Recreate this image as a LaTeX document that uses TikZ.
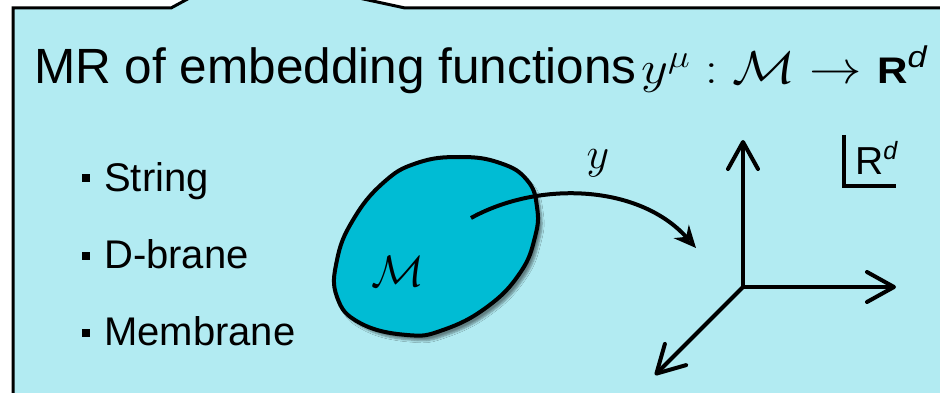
\RequirePackage{fix-cm}
\documentclass[tikz,border=0pt]{standalone}
\usepackage{fontspec}
\usepackage{graphicx}
\setmainfont{Liberation Sans}
\usetikzlibrary{arrows.meta,shadows.blur}
\definecolor{boxfill}{HTML}{B2EBF2}
\definecolor{blobfill}{HTML}{00BCD4}
\tikzset{
  panel/.style={draw=black, line width=3pt, fill=boxfill, line join=miter},
  blobshape/.style={draw=black, line width=4pt, fill=blobfill,
    blur shadow={shadow xshift=4pt, shadow yshift=-5pt, shadow blur steps=6, shadow opacity=45}},
  bulletsq/.style={fill=black, minimum size=8pt, inner sep=0pt},
  itemtxt/.style={anchor=base west, inner sep=0pt, font=\fontsize{40}{46}\selectfont},
  axis/.style={line width=4pt, line cap=round, -{Straight Barb[length=27pt, width=30pt, line width=4pt, round]}},
  maparrow/.style={line width=4pt, -{Stealth[length=22pt, width=20pt]}},
}
\begin{document}
\begin{tikzpicture}[x=1pt,y=-1pt]
\useasboundingbox (0,0) rectangle (940,393);
\fill[white] (0,0) rectangle (940,393);
% panel with callout tab
\draw[panel] (13,410) -- (13,8) -- (171,8) -- (195,-5) -- (345,-5) -- (405,8) -- (960,8) -- (960,410) -- cycle;
% title
\node[anchor=base west, inner sep=0pt, font=\fontsize{49.5}{56}\selectfont] (title) at (34,84)
  {MR of embedding functions};
\node[anchor=base west, inner sep=0pt, font=\fontsize{46}{52}\selectfont] (titlemath) at (641,84)
  {\scalebox{1.14}[1]{$y^{\mu} : \mathcal{M} \to \mbox{\fontsize{37}{42}\selectfont\bfseries R}^{\mbox{\fontsize{30}{34}\selectfont\itshape d}}$}};
% bullet list
\node[bulletsq] (b1) at (86,178) {};
\node[itemtxt] (t1) at (104,192) {String};
\node[bulletsq] (b2) at (86,256) {};
\node[itemtxt] (t2) at (104,268) {D-brane};
\node[bulletsq] (b3) at (86,333) {};
\node[itemtxt] (t3) at (104,345) {Membrane};
% manifold blob
\draw[blobshape] plot[smooth cycle, tension=0.75] coordinates {
  (460,157) (500,163) (527,180) (537,207) (535,237) (520,273) (487,307)
  (443,330) (407,335) (360,323) (337,297) (337,260) (353,220) (383,183) (417,163)};
\node[inner sep=0pt, font=\fontsize{44}{50}\selectfont] (mlabel) at (398,271) {$\mathcal{M}$};
% map arrow y
\coordinate (ystart) at (471,218);
\coordinate (yend) at (696,248);
\draw[maparrow] (ystart) .. controls (540,180) and (640,185) .. (yend);
\node[inner sep=0pt, font=\fontsize{44}{50}\selectfont] (ylabel) at (598,163) {$y$};
% axes
\coordinate (o) at (743,287);
\coordinate (ax1) at (743,140);
\coordinate (ax2) at (896,287);
\coordinate (ax3) at (655,375);
\draw[axis] (o) -- (ax1);
\draw[axis] (o) -- (ax2);
\draw[axis] (o) -- (ax3);
% R^d label with corner bracket
\coordinate (brtop) at (844,135);
\coordinate (brend) at (896,186);
\draw[line width=3.5pt] (brtop) |- (brend);
\node[anchor=base west, inner sep=0pt] (rlabel) at (855,175)
  {\fontsize{39}{44}\selectfont R\raisebox{15pt}{\fontsize{25}{30}\selectfont\itshape d}};
\end{tikzpicture}
\end{document}
